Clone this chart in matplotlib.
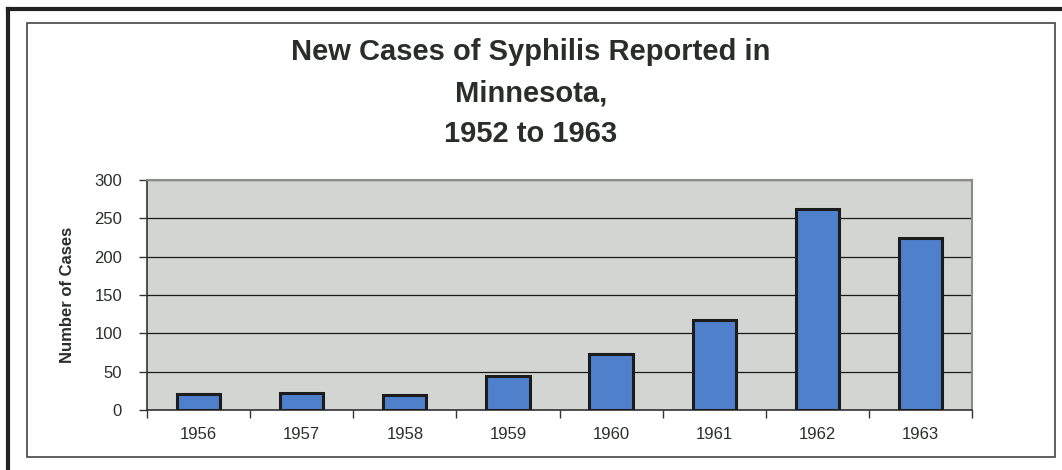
import numpy as np
import matplotlib
matplotlib.use("Agg")
import matplotlib.pyplot as plt
from matplotlib.patches import Rectangle

years = ["1956", "1957", "1958", "1959", "1960", "1961", "1962", "1963"]
cases = [21, 22, 20, 44, 73, 117, 262, 224]
yticks = [0, 50, 100, 150, 200, 250, 300]

plt.rcParams['font.family'] = ['Liberation Sans', 'DejaVu Sans']
txt = "#2a2e2a"

fig = plt.figure(figsize=(10.62, 4.70), dpi=100)
W, H = 1062, 470

# outer double frame
fig.add_artist(plt.Line2D([8/W, 8/W], [0, 1 - 9/H], color="#222222", lw=3, transform=fig.transFigure))
fig.add_artist(plt.Line2D([8/W, 1], [1 - 9/H, 1 - 9/H], color="#222222", lw=3, transform=fig.transFigure))
fig.add_artist(Rectangle((27/W, 1 - 457/H), (1055 - 27)/W, (457 - 23)/H, fill=False,
                         edgecolor="#444444", lw=1.2, transform=fig.transFigure))

ax = fig.add_axes([147/W, 1 - 410/H, (972 - 147)/W, (410 - 180)/H])
ax.set_facecolor("#d3d5d3")
x = np.arange(len(years))
ax.bar(x, cases, width=0.42, color="#4f80cc", edgecolor="#1c1c1c", linewidth=2.2, zorder=3)

ax.set_xlim(-0.5, len(years) - 0.5)
ax.set_ylim(0, 300)
ax.set_yticks(yticks)
ax.set_yticklabels([str(v) for v in yticks], fontsize=12, color=txt)
ax.set_xticks(x)
ax.set_xticklabels(years, fontsize=12, color=txt)
ax.set_xticks(np.arange(len(years) + 1) - 0.5, minor=True)
ax.tick_params(axis="x", which="major", length=0, pad=12)
ax.tick_params(axis="x", which="minor", length=6, width=1, color="#333333", direction="out")
ax.tick_params(axis="y", length=6, width=1, color="#333333", pad=12)
ax.yaxis.grid(True, color="#1a1a1a", lw=0.9, zorder=1)
ax.set_axisbelow(True)
for s in ["top", "right"]:
    ax.spines[s].set_color("#8a8c88")
    ax.spines[s].set_linewidth(1.5)
for s in ["left", "bottom"]:
    ax.spines[s].set_color("#333333")
    ax.spines[s].set_linewidth(1.2)

ax.set_ylabel("Number of Cases", fontsize=12, fontweight="bold", color=txt, labelpad=14)

fig.text(0.5, 1 - 52/H, "New Cases of Syphilis Reported in", ha="center", va="center",
         fontsize=21, fontweight="bold", color=txt)
fig.text(0.5, 1 - 94/H, "Minnesota,", ha="center", va="center",
         fontsize=21, fontweight="bold", color=txt)
fig.text(0.5, 1 - 134/H, "1952 to 1963", ha="center", va="center",
         fontsize=21, fontweight="bold", color=txt)

fig.savefig("out.png", dpi=100)
